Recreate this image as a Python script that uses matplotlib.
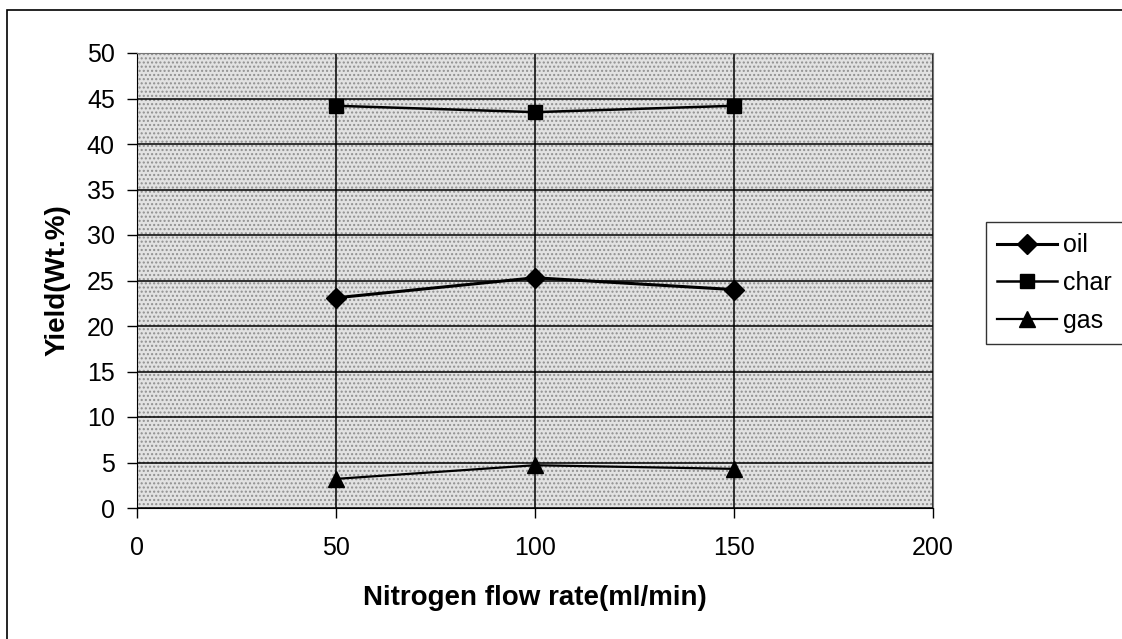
import matplotlib.pyplot as plt
from matplotlib.patches import Rectangle

# data
flow_rate = [50, 100, 150]
oil = [23.1, 25.3, 24.0]
char = [44.2, 43.5, 44.2]
gas = [3.2, 4.7, 4.3]

x_ticks = [0, 50, 100, 150, 200]
y_ticks = list(range(0, 51, 5))

plt.rcParams['font.family'] = ['Liberation Sans', 'DejaVu Sans']

fig = plt.figure(figsize=(11.22, 6.39), dpi=100)
# plot area: x 137..933 px, y 53..508 px
ax = fig.add_axes([137 / 1122, 131 / 639, 796 / 1122, 455 / 639])

# stippled grey plot area
ax.set_facecolor('#e2e2e2')
ax.add_patch(Rectangle((0, 0), 1, 1, transform=ax.transAxes, facecolor='none',
                       edgecolor='#909090', hatch='....', linewidth=0, zorder=0))

ax.plot(flow_rate, oil, color='black', linewidth=2.2, marker='D', markersize=10, label='oil', zorder=3)
ax.plot(flow_rate, char, color='black', linewidth=1.8, marker='s', markersize=10, label='char', zorder=3)
ax.plot(flow_rate, gas, color='black', linewidth=1.6, marker='^', markersize=11, label='gas', zorder=3)

ax.set_xlim(0, 200)
ax.set_ylim(0, 50)
ax.set_xticks(x_ticks)
ax.set_yticks(y_ticks)
ax.grid(True, color='black', linewidth=1.1)
ax.set_axisbelow(True)
ax.tick_params(labelsize=18, length=7, width=1)
ax.tick_params(axis='x', pad=13)
ax.tick_params(axis='y', pad=9)

for side in ['top', 'right']:
    ax.spines[side].set_color('#777777')
ax.spines['left'].set_color('black')
ax.spines['bottom'].set_color('black')

ax.set_xlabel('Nitrogen flow rate(ml/min)', fontsize=20, fontweight='bold')
ax.set_ylabel('Yield(Wt.%)', fontsize=20, fontweight='bold')
ax.xaxis.set_label_coords(0.5, -0.169)
ax.yaxis.set_label_coords(-0.084, 0.5)

leg = ax.legend(loc='upper left', bbox_to_anchor=(986 / 1122, 1 - 222 / 639), bbox_transform=fig.transFigure,
                frameon=True, fancybox=False, edgecolor='black', fontsize=18, handlelength=2.4,
                borderaxespad=0, labelspacing=0.55, handletextpad=0.25, borderpad=0.45)
leg.get_frame().set_linewidth(1.0)

# outer chart frame
fig.patches.append(Rectangle((7 / 1122, -0.01), 1.2, 1 - 10 / 639 + 0.01, transform=fig.transFigure,
                             fill=False, edgecolor='black', linewidth=1.2))

fig.savefig('out.png', dpi=100)
